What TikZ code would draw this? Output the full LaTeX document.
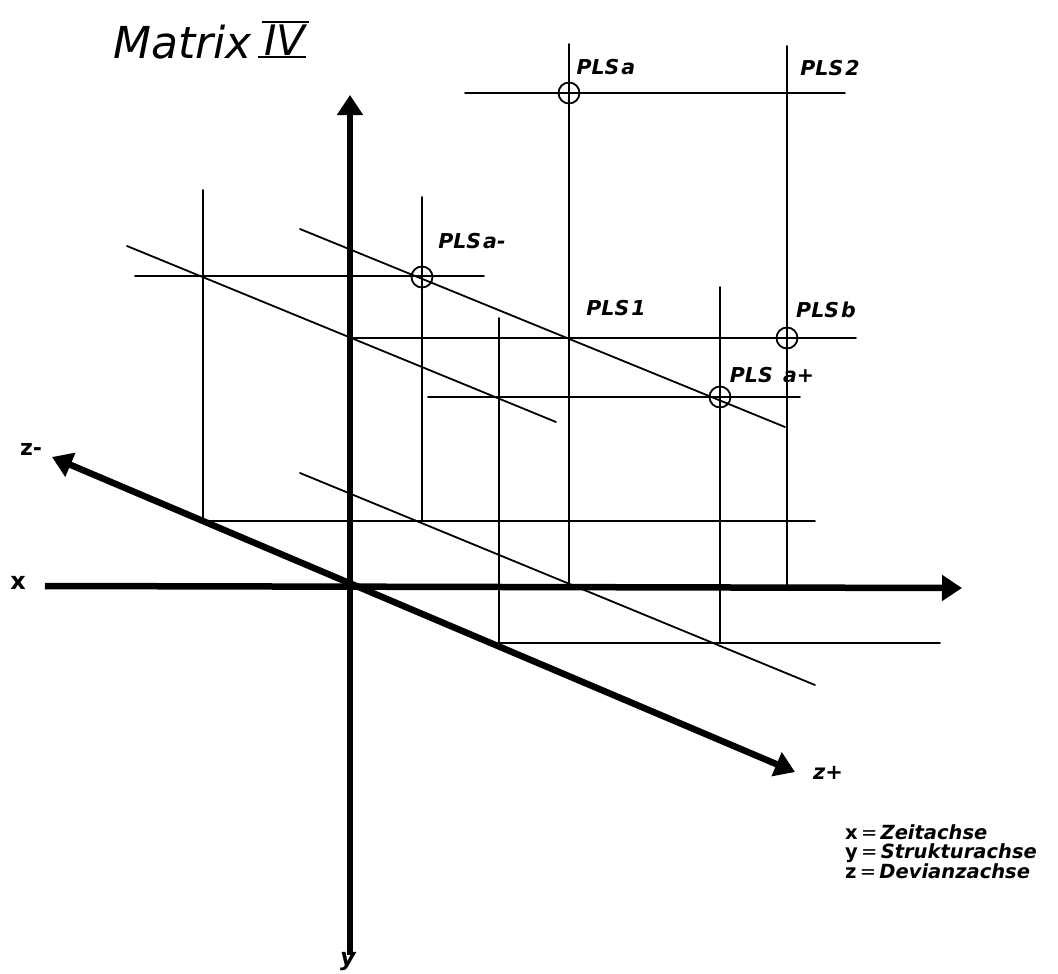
\documentclass[tikz,border=0pt]{standalone}
\usepackage{fontspec}
\setmainfont{DejaVu Sans}
\usetikzlibrary{arrows.meta}
\begin{document}
\begin{tikzpicture}[x=1pt,y=-1pt,
  axis/.style={line width=6.5pt},
  thin/.style={line width=1.8pt,line cap=round},
  ring/.style={circle,draw,line width=1.8pt,minimum size=21pt,inner sep=0pt},
  lbl/.style={font=\fontsize{20.5}{22}\selectfont\bfseries\itshape,inner sep=0pt},
  axlbl/.style={font=\fontsize{22}{24}\selectfont\bfseries,inner sep=0pt}]
\useasboundingbox (0,0) rectangle (1058,974);
% coordinates
\coordinate (ytop) at (350,95);   \coordinate (ybot) at (350,955);
\coordinate (xl) at (45,586);     \coordinate (xr) at (962,588);
\coordinate (zm) at (52,457);     \coordinate (zp) at (795,772);
\coordinate (h1a) at (465,93);  \coordinate (h1b) at (845,93);
\coordinate (h2a) at (135,276); \coordinate (h2b) at (484,276);
\coordinate (h3a) at (350,338); \coordinate (h3b) at (856,338);
\coordinate (h4a) at (428,397); \coordinate (h4b) at (800,397);
\coordinate (h5a) at (203,521); \coordinate (h5b) at (815,521);
\coordinate (h6a) at (499,643); \coordinate (h6b) at (940,643);
\coordinate (v1a) at (203,190); \coordinate (v1b) at (203,521);
\coordinate (v2a) at (422,197); \coordinate (v2b) at (422,521);
\coordinate (v3a) at (499,318); \coordinate (v3b) at (499,643);
\coordinate (v4a) at (569,44);  \coordinate (v4b) at (569,587);
\coordinate (v5a) at (720,287); \coordinate (v5b) at (720,643);
\coordinate (v6a) at (787,46);  \coordinate (v6b) at (787,588);
\coordinate (d1a) at (127,246); \coordinate (d1b) at (556,422);
\coordinate (d2a) at (300,229); \coordinate (d2b) at (785,427);
\coordinate (d3a) at (300,473); \coordinate (d3b) at (815,685);
% thin construction lines
\foreach \n in {h1,h2,h3,h4,h5,h6,v1,v2,v3,v4,v5,v6,d1,d2,d3}
  \draw[thin] (\n a) -- (\n b);
% circles
\node[ring] (pa)  at (569,93)  {};
\node[ring] (pam) at (422,277) {};
\node[ring] (pb)  at (787,338) {};
\node[ring] (pap) at (720,397) {};
% axes
\draw[axis,-{Triangle[length=20pt,width=25pt]}] (ybot) -- (ytop);
\draw[axis,-{Triangle[length=20pt,width=25pt]}] (xl) -- (xr);
\draw[axis,{Triangle[length=20pt,width=25pt]}-{Triangle[length=20pt,width=25pt]}] (zm) -- (zp);
% labels
\node[lbl] (lpa)  at (606,67)  {PLS\kern2pt a};
\node[lbl] (lp2)  at (830,68)  {PLS\kern2pt 2};
\node[lbl] (lpam) at (472,241) {PLS\kern2pt a-};
\node[lbl] (lp1)  at (616,308) {PLS\kern2pt 1};
\node[lbl] (lpb)  at (826,310) {PLS\kern2pt b};
\node[lbl] (lpap) at (772,375) {PLS\enspace a+};
\node[axlbl] (lzm) at (31,449) {z-};
\node[axlbl,font=\fontsize{24}{24}\selectfont\bfseries] (lx)  at (18,583) {x};
\node[axlbl,font=\fontsize{21}{24}\selectfont\bfseries\itshape] (lzp) at (828,773) {z+};
\node[axlbl,font=\fontsize{24}{24}\selectfont\bfseries\itshape] (ly)  at (348,962) {y};
% title
\node[font=\fontsize{44}{48}\selectfont\itshape,inner sep=0pt,anchor=west] (title) at (113,42) {Matrix};
\node[font=\fontsize{42}{48}\selectfont\itshape,inner sep=0pt,anchor=west] (num) at (264,40) {IV};
\draw[line width=2pt] ([xshift=-2pt,yshift=2pt]num.north west) -- ([xshift=3pt,yshift=2pt]num.north east);
\draw[line width=2pt] ([xshift=-6pt,yshift=-1pt]num.south west) -- ([xshift=0pt,yshift=-1pt]num.south east);
% legend
\node[font=\fontsize{19.5}{19.5}\selectfont,align=left,anchor=north west,inner sep=0pt] (legend) at (845,824)
 {\textbf{x}\,=\,\textbf{\textit{Zeitachse}}\\ \textbf{y}\,=\,\textbf{\textit{Strukturachse}}\\ \textbf{z}\,=\,\textbf{\textit{Devianzachse}}};
\end{tikzpicture}
\end{document}
